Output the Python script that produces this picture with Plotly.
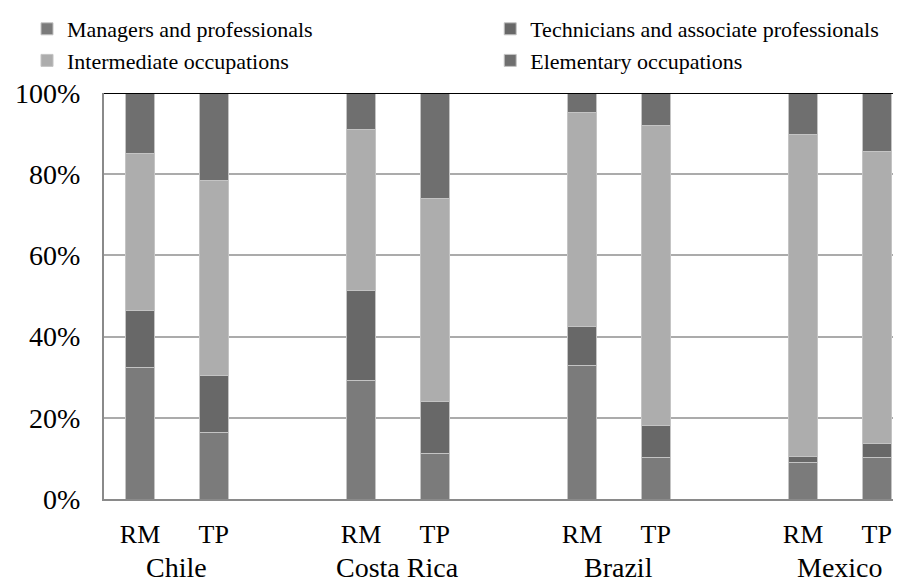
import plotly.graph_objects as go

# 数据：各国 RM / TP 的职业构成（%）
countries = ["Chile", "Costa Rica", "Brazil", "Mexico"]
groups = ["RM", "TP"]

managers = [32.3, 16.4, 29.1, 11.3, 32.9, 10.1, 8.9, 10.1]
technicians = [14.1, 14.0, 22.2, 12.8, 9.6, 8.0, 1.6, 3.6]
intermediate = [38.8, 48.1, 39.8, 49.9, 52.8, 74.0, 79.2, 71.9]
elementary = [14.8, 21.5, 8.9, 26.0, 4.7, 7.9, 10.3, 14.4]

y_ticks = [0, 20, 40, 60, 80, 100]

# (名称, 数值, 颜色, 图例列)
series = [
    ("Managers and professionals", managers, "#7b7b7b", "legend"),
    ("Technicians and associate professionals", technicians, "#686868", "legend2"),
    ("Intermediate occupations", intermediate, "#adadad", "legend"),
    ("Elementary occupations", elementary, "#6f6f6f", "legend2"),
]

FONT = "Times New Roman, Liberation Serif, Times, serif"

# 每国两根柱，国与国之间空一格
xpos = [ci * 3 + gi for ci in range(len(countries)) for gi in range(len(groups))]
xlabels = [g for _ in countries for g in groups]

fig = go.Figure()
for name, vals, color, leg in series:
    fig.add_trace(go.Bar(
        x=xpos, y=vals, name=name, width=0.39, legend=leg,
        marker=dict(color=color, line=dict(color="#c4c4c4", width=1)),
    ))

for ci, c in enumerate(countries):
    fig.add_annotation(
        x=ci * 3 + 0.5, y=0, xref="x", yref="paper",
        text=c, showarrow=False, yanchor="top", yshift=-51,
        font=dict(family=FONT, size=28, color="#000"),
    )

# 顶部黑线
fig.add_shape(type="line", xref="paper", yref="y", x0=0, x1=1, y0=100, y1=100,
              line=dict(color="#000", width=2))

legend_style = dict(
    orientation="v", xref="container", yref="container",
    y=1.0, xanchor="left", yanchor="top",
    font=dict(size=22, family=FONT, color="#000"), traceorder="normal",
    itemclick=False, bgcolor="rgba(0,0,0,0)", tracegroupgap=0,
)

# 页面 body 默认有 8px 外边距，图整体按此偏移
fig.update_layout(
    barmode="stack",
    width=893, height=575,
    margin=dict(l=96, r=0, t=85, b=84, autoexpand=False),
    paper_bgcolor="white", plot_bgcolor="white",
    font=dict(family=FONT, color="#000"),
    legend=dict(x=0.0213, **legend_style),
    legend2=dict(x=0.54, **legend_style),
    xaxis=dict(
        range=[-0.49, 10.33], tickvals=xpos, ticktext=xlabels,
        tickfont=dict(size=26, family=FONT), showgrid=False,
        showline=True, linecolor="#8a8a8a", linewidth=2,
        ticks="", ticklabelstandoff=11, zeroline=False,
    ),
    yaxis=dict(
        range=[0, 100], tickvals=y_ticks,
        ticktext=[f"{v}%" for v in y_ticks], tickfont=dict(size=28, family=FONT),
        showgrid=True, gridcolor="#ababab", gridwidth=1.5,
        showline=True, linecolor="#8a8a8a", linewidth=2,
        ticks="", ticklabelstandoff=16, zeroline=False,
    ),
)

fig.write_html("out.html")
